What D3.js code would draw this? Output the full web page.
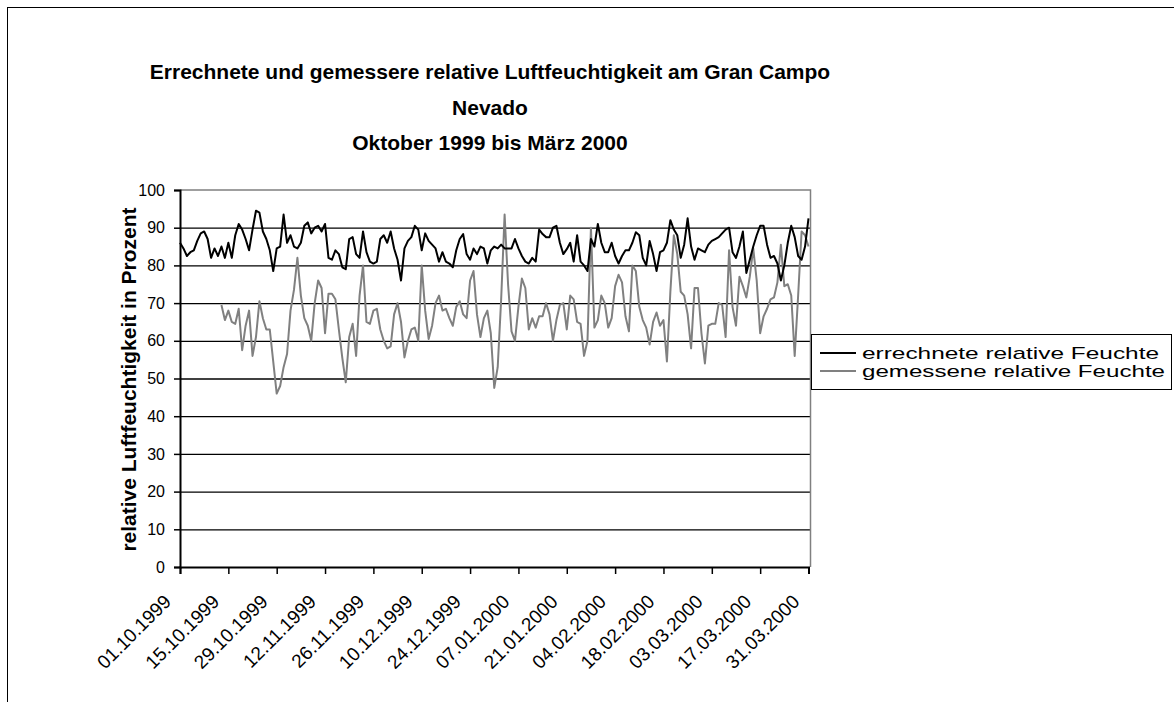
<!DOCTYPE html>
<html><head><meta charset="utf-8">
<script src="https://cdn.jsdelivr.net/npm/d3@7"></script>
<style>body{margin:0;background:#fff}svg{display:block}text{font-family:"Liberation Sans",Arial,sans-serif}</style>
</head><body><svg id="c" width="1174" height="702"></svg>
<script>
const titleLines = ["Errechnete und gemessere relative Luftfeuchtigkeit am Gran Campo","Nevado","Oktober 1999 bis März 2000"];
const yTitle = "relative Luftfeuchtigkeit in Prozent";
const seriesNames = ["errechnete relative Feuchte","gemessene relative Feuchte"];
const tickLabels = ["01.10.1999","15.10.1999","29.10.1999","12.11.1999","26.11.1999","10.12.1999","24.12.1999","07.01.2000","21.01.2000","04.02.2000","18.02.2000","03.03.2000","17.03.2000","31.03.2000"];
const yTicks = [0,10,20,30,40,50,60,70,80,90,100];
// daily values from 01.10.1999 (day 0) to 31.03.2000 (day 182)
const errechnet = [86,84.5,82.5,83.5,84,86.5,88.5,89,87,82,84.5,82.5,85,82,86,82,88,91,89.5,87,84,89.5,94.5,94,89,87,84,78.5,84.5,85,
93.5,86,88,85,84.5,86,90.5,91.4,88.5,90,90.5,89,91,82,81.5,84,83,79.5,79,87,87.5,83,82,89,83.5,81,80.5,81,87,88,86,
89,84.5,81.5,76,84.5,86.5,87.5,90.5,89.5,84,88.5,86.5,85.5,84.5,81,83.5,81,80.5,79.5,84,87,88.3,83,81.5,84.5,83,85,84.5,80.5,84,
85,84.5,85.5,84.5,84.5,84.5,87,84.5,82.5,81,80.5,82,81,89.5,88.3,87.5,87.5,90,90.5,86,83,84.3,86,81,88,81,80,78.5,87,85,91,
86,83.5,83.5,86,82.5,80.5,82.5,84,84,86,88.8,88,82,80,86.5,83,78.5,83.5,84,86,92,89.5,88,82,85.5,92.5,85,81.5,84.5,84,
83.5,85.5,86.5,87,87.5,88.5,89.5,90,83.5,82,85,89,78,81.5,85,88,90.5,90.5,85.5,82,82.5,80.5,76,80,86,90.5,87.5,82.5,81.5,85,92.5];
// measured values start on 13.10.1999 (day 12)
const gemessenStart = 12;
const gemessen = [69.5,65.5,68,65,64.5,68.5,57.5,64,68,56,61,70.5,66,63,63,54.5,46,48,
53,56.5,68,73.5,82,72,66,64,60,70,76,74,62,72.5,72.5,71,63,55.5,49,61,64.5,56,72,80,65,64.5,68,68.5,63,60,58,
58.5,67,70,65,55.6,60,63,63.5,60,80,68,60.5,64,70,72,68,68.5,66,64,69,70.5,67,66,76,78.5,67,61,66,68,62,
47.5,53,71,93.5,75,62.5,60,69,76.5,74,63,66,63.5,66.5,66.5,70,67,60,65.5,69.5,70,63,72,71,65,64.5,56,60,90,63.5,65.5,
72,70,63.5,66,74.5,77.5,75.5,66.5,62.5,80,78.5,69,65.5,63.5,59,65,67.5,64,65.5,54.5,73,88,83,73,72,67,58,74,74,62,
54,64,64.5,64.5,70,69.5,61,84,69,64,77,74.5,71.5,77,84.5,76,62,66.5,68.5,71,71.5,75.5,85.5,74.5,75,72,56,72,89,88,85];

const svg = d3.select("#c");
const L = 180, R = 808.5, T = 190, B = 567;
const nDays = errechnet.length;
const x = d3.scaleLinear().domain([0, nDays - 1]).range([L, R]);
const y = d3.scaleLinear().domain([0, 100]).range([B, T]);
const FONT = '"Liberation Sans",Arial,sans-serif';

// outer border
svg.append("rect").attr("x", 7.5).attr("y", 7.5).attr("width", 1180).attr("height", 720)
  .attr("fill", "none").attr("stroke", "#000").attr("stroke-width", 1);

// title
svg.append("text").attr("x", 490).attr("y", 79).attr("text-anchor", "middle")
  .attr("font-size", 21).attr("font-weight", "bold")
  .selectAll("tspan").data(titleLines).join("tspan")
  .attr("x", 490).attr("dy", (d, i) => i ? 35.5 : 0).text(d => d);

// gridlines
svg.append("g").attr("transform", `translate(${L},0)`)
  .call(d3.axisLeft(y).tickValues(yTicks.filter(v => v > 0 && v < 100)).tickSize(-(R - L + 2)).tickFormat(""))
  .call(g => g.select(".domain").remove())
  .call(g => g.selectAll("line").attr("stroke", "#000").attr("stroke-width", 1.3));

// plot border top/right (gray)
svg.append("path").attr("d", `M${L},${y(100)}H${R + 2}V${B}`).attr("fill", "none").attr("stroke", "#808080").attr("stroke-width", 1.5);

// y axis
svg.append("g").attr("transform", `translate(${L},0)`)
  .call(d3.axisLeft(y).tickValues(yTicks).tickSize(6).tickPadding(9))
  .call(g => g.select(".domain").attr("stroke-width", 2))
  .call(g => g.selectAll("line").attr("stroke-width", 1.5))
  .call(g => g.selectAll("text").attr("font-size", 16).attr("fill", "#000").attr("font-family", FONT));

// x axis
const tickDays = tickLabels.map((d, i) => i * 14);
const xa = svg.append("g").attr("transform", `translate(0,${B})`)
  .call(d3.axisBottom(x).tickValues(tickDays).tickSize(7).tickFormat((d, i) => tickLabels[i]))
  .call(g => g.select(".domain").attr("stroke-width", 2))
  .call(g => g.selectAll("line").attr("stroke-width", 1.5));
xa.selectAll("text").attr("font-size", 19).attr("fill", "#000").attr("font-family", FONT)
  .attr("text-anchor", "end").attr("y", 0).attr("dy", "0.35em")
  .attr("transform", "translate(-13,31) rotate(-45)");

// y title
svg.append("text").attr("transform", `translate(128,${(T + B) / 2 + 1}) rotate(-90)`)
  .attr("text-anchor", "middle").attr("dominant-baseline", "central")
  .attr("font-size", 21).attr("font-weight", "bold").text(yTitle);

// lines
const line = d3.line().x(d => x(d[0])).y(d => y(d[1]));
const grayData = gemessen.map((v, i) => [i + gemessenStart, v]);
const blackData = errechnet.map((v, i) => [i, v]);
svg.append("path").datum(grayData).attr("d", line).attr("fill", "none").attr("stroke", "#808080").attr("stroke-width", 2).attr("stroke-linejoin", "round");
svg.append("path").datum(blackData).attr("d", line).attr("fill", "none").attr("stroke", "#000").attr("stroke-width", 2).attr("stroke-linejoin", "round");

// legend
const lg = svg.append("g");
lg.append("rect").attr("x", 811.5).attr("y", 334.5).attr("width", 360).attr("height", 55).attr("fill", "#fff").attr("stroke", "#000");
const colors = ["#000", "#808080"];
const legendWidths = [297, 303];
seriesNames.forEach((n, i) => {
  const yy = 353 + i * 18;
  lg.append("line").attr("x1", 820).attr("x2", 856).attr("y1", yy).attr("y2", yy).attr("stroke", colors[i]).attr("stroke-width", 2);
  lg.append("text").attr("x", 862).attr("y", yy).attr("dy", "0.35em").attr("font-size", 17)
    .attr("textLength", legendWidths[i]).attr("lengthAdjust", "spacingAndGlyphs").text(n);
});
</script></body></html>
